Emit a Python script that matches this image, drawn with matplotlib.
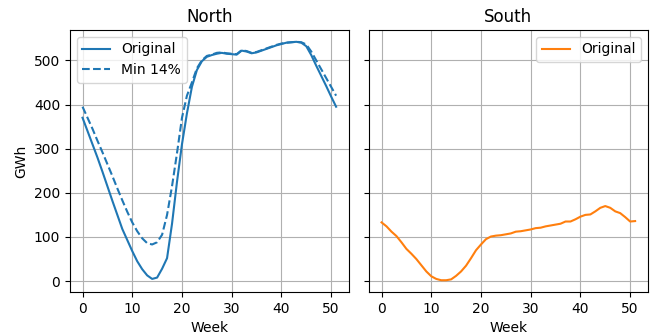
import numpy as np
import matplotlib
matplotlib.use("Agg")
import matplotlib.pyplot as plt

weeks = np.arange(52)

north_original = [370, 340, 310, 280, 248, 215, 182, 150, 118, 93,
                  68, 45, 27, 13, 5, 8, 28, 52, 130, 225,
                  310, 380, 440, 478, 498, 508, 512, 515, 517, 515,
                  514, 513, 522, 520, 516, 518, 522, 526, 530, 534,
                  537, 540, 541, 542, 540, 532, 512, 488, 465, 442,
                  418, 395]

north_min14 = [395, 370, 345, 318, 292, 265, 238, 210, 183, 157,
               133, 113, 97, 86, 83, 88, 105, 150, 215, 290,
               370, 420, 450, 482, 500, 510, 513, 517, 518, 516,
               515, 514, 523, 521, 517, 519, 523, 527, 531, 535,
               538, 540, 541, 542, 541, 536, 520, 500, 480, 460,
               440, 420]

south_original = [133, 124, 112, 102, 88, 73, 62, 50, 36, 22,
                  11, 5, 2, 2, 4, 12, 22, 35, 52, 70,
                  83, 95, 101, 103, 104, 106, 108, 112, 113, 115,
                  117, 120, 121, 124, 126, 128, 130, 135, 135, 140,
                  146, 150, 151, 158, 166, 170, 166, 158, 154, 145,
                  135, 136]

fig, (ax1, ax2) = plt.subplots(1, 2, sharey=True, figsize=(6.59, 3.32), dpi=100)
fig.subplots_adjust(left=0.106, right=0.983, top=0.91, bottom=0.12, wspace=0.072)

ax1.plot(weeks, north_original, color="C0", label="Original")
ax1.plot(weeks, north_min14, color="C0", linestyle="--", label="Min 14%")
ax1.set_title("North")
ax1.set_xlabel("Week")
ax1.set_ylabel("GWh")
ax1.grid(True)
ax1.legend(loc="upper left")

ax2.plot(weeks, south_original, color="C1", label="Original")
ax2.set_title("South")
ax2.set_xlabel("Week")
ax2.grid(True)
ax2.legend(loc="upper right")

fig.savefig("out.png")
